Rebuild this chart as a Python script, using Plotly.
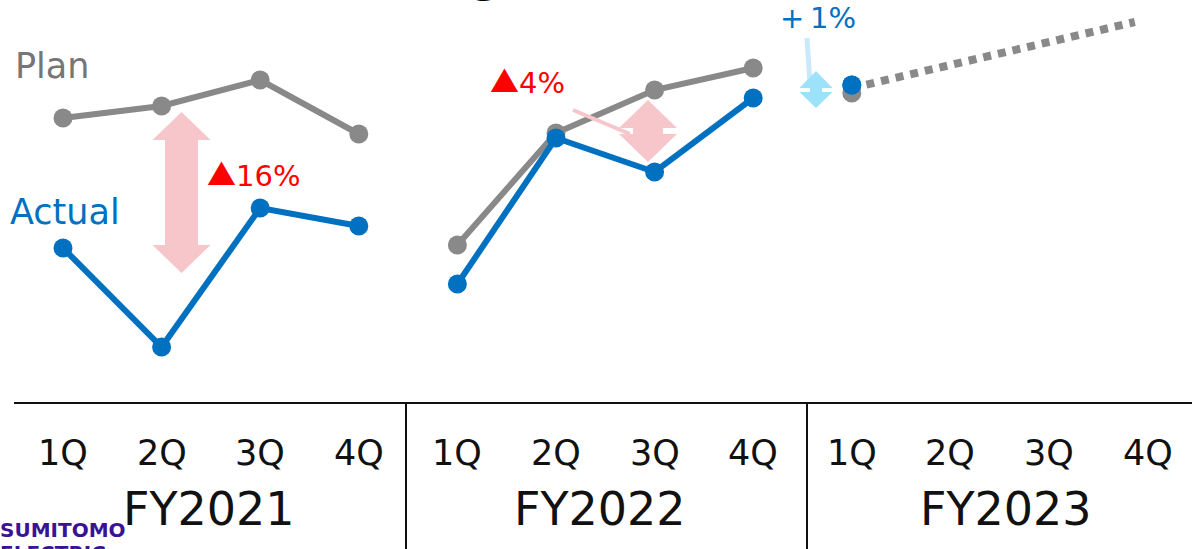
import plotly.graph_objects as go

W, H = 1192, 549
PLOT_BOTTOM = 403  # pixel row of the horizontal axis line

# ---------------- data ----------------
quarters = ["1Q", "2Q", "3Q", "4Q"] * 3
fiscal_years = ["FY2021", "FY2022", "FY2023"]
x_index = list(range(9))  # FY2021 1Q .. FY2023 1Q
plan_values = [71.25, 74.25, 80.75, 67.25, 39.5, 67.5, 78.25, 83.75, 77.5]
actual_values = [38.75, 14.0, 48.75, 44.25, 29.75, 66.25, 57.75, 76.25, 79.5]
forecast_x = [8, 10.87]
forecast_y = [78.75, 95.25]
gap_signs = ["▲", "▲", "+"]
gap_numbers = ["16%", "4%", "1%"]

GRAY = "#898989"
BLUE = "#0070C0"
RED = "#FF0000"
PINK = "#F6C6CA"
LBLUE = "#9BE2FA"
FONT = "DejaVu Sans"
CJK = "Noto Sans CJK JP"

# axis ranges (1 index unit = 98.6 px, 1 value unit = 4 px)
XMIN = -63 / 98.6
XMAX = XMIN + W / 98.6
YMAX = PLOT_BOTTOM / 4


def px(x):
    return x / W


def py(y):
    return (PLOT_BOTTOM - y) / PLOT_BOTTOM


fig = go.Figure()

groups = [range(0, 4), range(4, 8), range(8, 9)]
for vals, color in [(plan_values, GRAY), (actual_values, BLUE)]:
    for g in groups:
        fig.add_trace(go.Scatter(
            x=[x_index[i] for i in g], y=[vals[i] for i in g],
            mode="lines+markers",
            line=dict(color=color, width=6),
            marker=dict(color=color, size=19),
            showlegend=False, hoverinfo="skip", cliponaxis=False,
        ))

fig.add_trace(go.Scatter(
    x=forecast_x, y=forecast_y, mode="lines",
    line=dict(color=GRAY, width=8, dash="8px,7px"),
    showlegend=False, hoverinfo="skip",
))
# redraw FY2023 actual marker over the dotted line start
fig.add_trace(go.Scatter(
    x=[x_index[8]], y=[actual_values[8]], mode="markers",
    marker=dict(color=BLUE, size=19), showlegend=False, hoverinfo="skip",
))

shapes = []


def poly(points, color):
    d = "M " + " L ".join(f"{px(a):.5f},{py(b):.5f}" for a, b in points) + " Z"
    shapes.append(dict(type="path", xref="paper", yref="paper", path=d,
                       fillcolor=color, line=dict(width=0), layer="above"))


def line(x0, y0, x1, y1, color, width):
    shapes.append(dict(type="line", xref="paper", yref="paper",
                       x0=px(x0), y0=py(y0), x1=px(x1), y1=py(y1),
                       line=dict(color=color, width=width), layer="above"))


def double_arrow(cx, top, bottom, head_w, shaft_w, head_top_base, head_bot_base, color):
    hw, sw = head_w / 2, shaft_w / 2
    poly([(cx, top), (cx + hw, head_top_base), (cx + sw, head_top_base),
          (cx + sw, head_bot_base), (cx + hw, head_bot_base), (cx, bottom),
          (cx - hw, head_bot_base), (cx - sw, head_bot_base),
          (cx - sw, head_top_base), (cx - hw, head_top_base)], color)


# axis frame lines
line(14, PLOT_BOTTOM, W, PLOT_BOTTOM, "#111111", 2)
line(406, PLOT_BOTTOM, 406, H + 2, "#111111", 2)
line(807, PLOT_BOTTOM, 807, H + 2, "#111111", 2)

# gap arrows and leader lines
line(573, 110, 630, 134, PINK, 4)
line(807, 38, 810, 84, "#C8EAFB", 5)
double_arrow(181.5, 112, 273, 58, 33, 140, 245, PINK)
double_arrow(648, 100, 162, 58, 30, 128, 134, PINK)
double_arrow(816, 71, 108, 33, 12, 88, 92, LBLUE)

annotations = []


def text(t, x, y, size, color, xanchor="center", yanchor="middle", family=FONT, xref="paper"):
    annotations.append(dict(text=t, x=x if xref == "x" else px(x), y=py(y),
                            xref=xref, yref="paper", showarrow=False,
                            xanchor=xanchor, yanchor=yanchor,
                            font=dict(family=family, size=size, color=color)))


def gap_text(sign, number, cjk=True):
    if cjk:
        return f'<span style="font-family:{CJK}">{sign}</span>{number}'
    return f"{sign}\u2009{number}"


for i, q in enumerate(quarters):
    text(q, i, 453, 35, "#111111", xref="x")
for fy, cx in zip(fiscal_years, [209, 600, 1006]):
    text(fy, cx, 509, 46, "#111111")

text("Plan", 13, 66, 35, "#767676", xanchor="left")
text("Actual", 8, 212, 35, BLUE, xanchor="left")
text(gap_text(gap_signs[0], gap_numbers[0]), 205, 173, 29, RED, xanchor="left")
text(gap_text(gap_signs[1], gap_numbers[1]), 488, 80, 29, RED, xanchor="left")
text(gap_text(gap_signs[2], gap_numbers[2], cjk=False), 778, 18, 29, BLUE, xanchor="left")

# title descender peeking in at the top
text("<b>g</b>", 468, -24, 44, "#000000", xanchor="left")

# logo
text("<b>SUMITOMO</b>", -2, 530, 20, "#3B1296", xanchor="left")
text("<b>ELECTRIC</b>", -2, 553, 20, "#3B1296", xanchor="left")

fig.update_layout(
    width=W, height=H,
    margin=dict(l=0, r=0, t=0, b=H - PLOT_BOTTOM, pad=0),
    paper_bgcolor="white", plot_bgcolor="white",
    xaxis=dict(range=[XMIN, XMAX], visible=False, fixedrange=True),
    yaxis=dict(range=[0, YMAX], visible=False, fixedrange=True),
    shapes=shapes, annotations=annotations,
    showlegend=False,
)

fig.write_html("out.html", config={"displayModeBar": False})
